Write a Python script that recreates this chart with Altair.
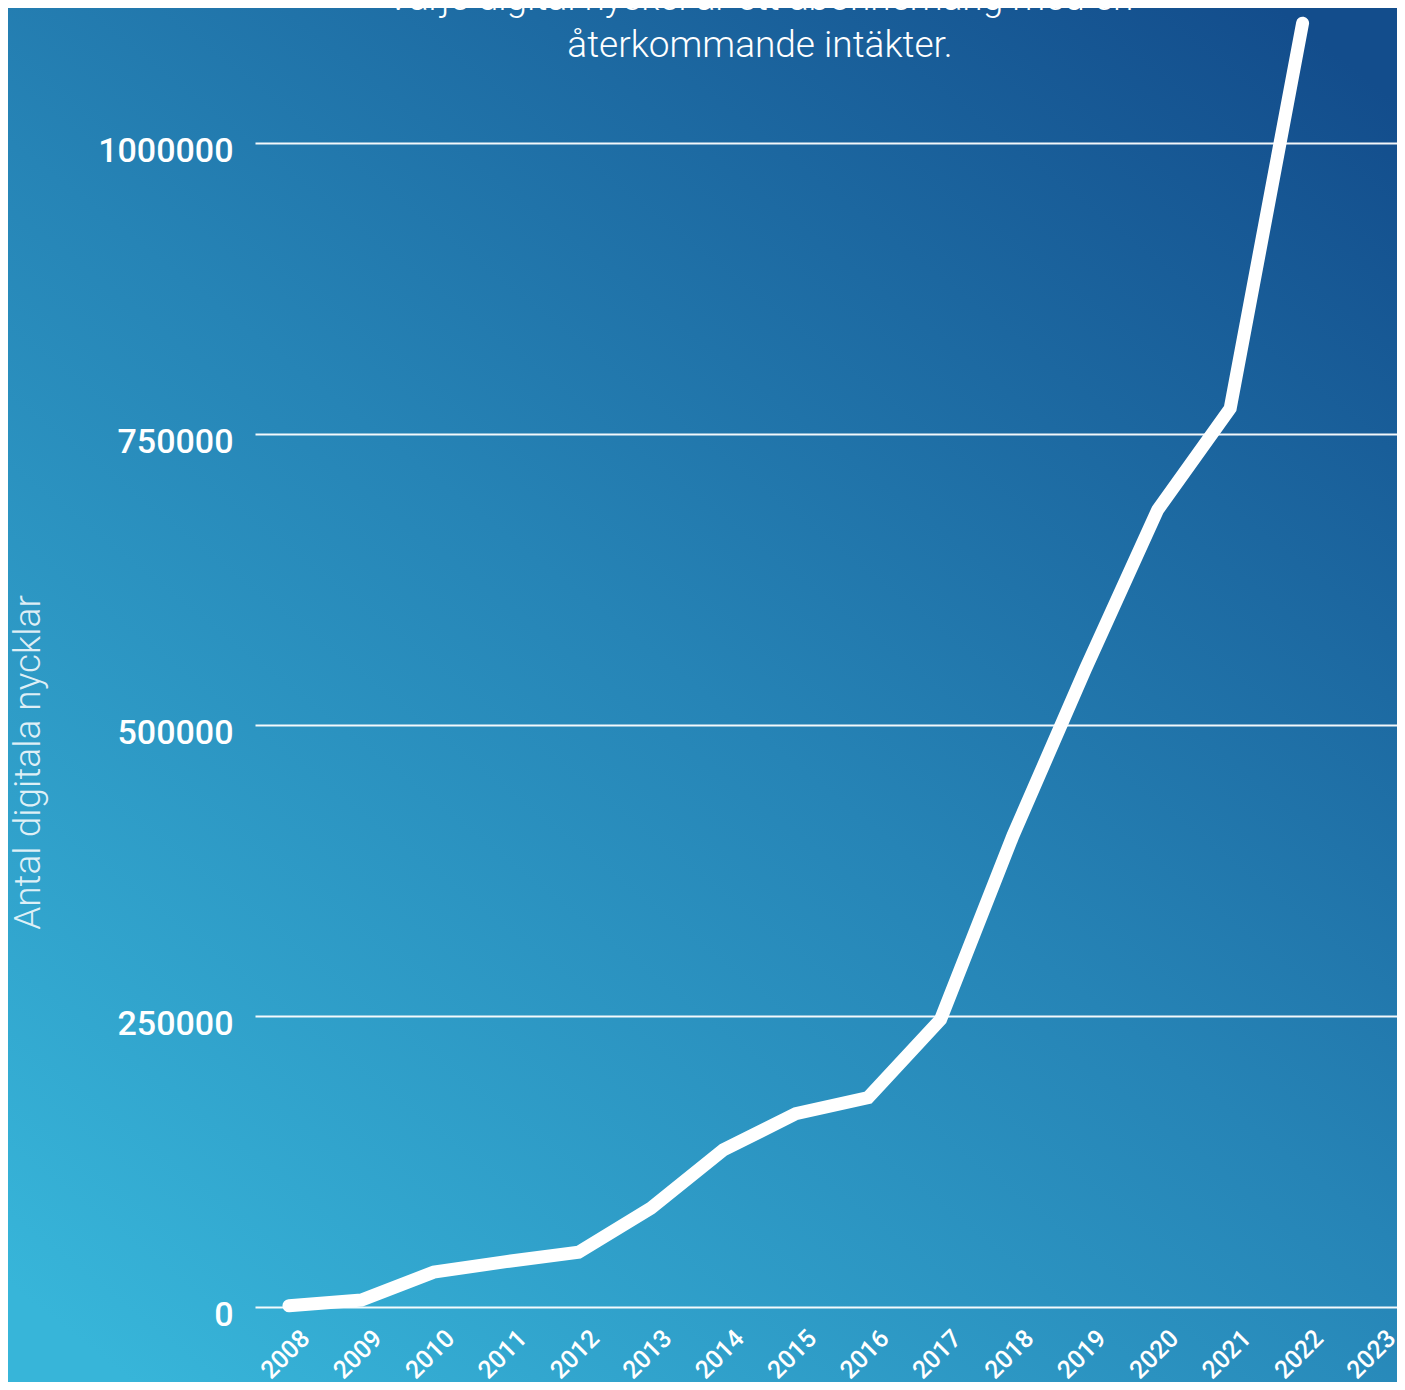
import altair as alt
import pandas as pd

years = list(range(2008, 2024))
data_years = list(range(2008, 2023))
keys = [1000, 6000, 30000, 39000, 47000, 85000, 135000, 166000, 180000,
        247000, 405000, 548000, 685000, 772000, 1103000]
y_ticks = [0, 250000, 500000, 750000, 1000000]
title_lines = ["Varje digital nyckel är ett abonnemang med en",
               "återkommande intäkter."]
y_title = "Antal digitala nycklar"

W, H = 1142, 1292
PAD = {"left": 247, "top": 7, "right": 0, "bottom": 75}

df = pd.DataFrame({"year": data_years, "keys": keys})

bg = alt.Chart(pd.DataFrame({"a": [0]})).mark_rect(
    fill=alt.LinearGradient(
        gradient="linear",
        stops=[alt.GradientStop(color="#37b5d9", offset=0),
               alt.GradientStop(color="#2684b6", offset=0.5),
               alt.GradientStop(color="#134d8c", offset=1)],
        x1=0.1, y1=1, x2=0.9, y2=0),
    stroke=None,
).encode(
    x=alt.value(-PAD["left"] - 5), x2=alt.value(W + 10),
    y=alt.value(-PAD["top"] - 10), y2=alt.value(H + PAD["bottom"] + 10),
)

line = alt.Chart(df).mark_line(
    color="white", strokeWidth=13, strokeCap="round", strokeJoin="miter"
).encode(
    x=alt.X("year:Q",
            scale=alt.Scale(domain=[2007.531, 2023.304], nice=False, zero=False),
            axis=alt.Axis(title=None, values=years, format="d",
                          labelAngle=-45, labelAlign="center",
                          labelBaseline="middle", labelPadding=47,
                          labelOffset=-4, ticks=False, tickSize=0,
                          domain=False, grid=False, labelFont="Roboto",
                          labelFontSize=25, labelFontWeight=500,
                          labelColor="white", labelFlush=False,
                          labelOverlap=False, zindex=1)),
    y=alt.Y("keys:Q", scale=alt.Scale(domain=[0, 1110000], nice=False),
            axis=alt.Axis(values=y_ticks, format="d", title=y_title,
                          titleX=-227, titleY=747, titleAngle=270,
                          titleAlign="center", titleBaseline="middle",
                          titleFont="Roboto", titleFontSize=37,
                          titleFontWeight=300,
                          titleColor="rgba(255,255,255,0.85)",
                          labelFont="Roboto", labelFontSize=34,
                          labelFontWeight=500, labelColor="white",
                          labelPadding=22, labelOffset=8,
                          ticks=False, tickSize=0, domain=False,
                          grid=True, gridColor="white", gridWidth=2,
                          gridOpacity=0.95, zindex=1)),
)

tdf = pd.DataFrame({"t": title_lines, "i": [0, 1]})
title = alt.Chart(tdf).transform_filter("datum.i == 0").mark_text(
    font="Roboto", fontSize=37, fontWeight=300, color="white",
    align="center", baseline="alphabetic"
).encode(text="t:N", x=alt.value(505), y=alt.value(-5))
title2 = alt.Chart(tdf).transform_filter("datum.i == 1").mark_text(
    font="Roboto", fontSize=37, fontWeight=300, color="white",
    align="center", baseline="alphabetic"
).encode(text="t:N", x=alt.value(505), y=alt.value(42))

chart = alt.layer(bg, line, title, title2).properties(
    width=W, height=H,
    autosize=alt.AutoSizeParams(type="none"),
    padding=PAD,
).configure(background="#2683b6").configure_view(stroke=None)

chart.save("out.html", embed_options={"renderer": "svg", "actions": False})
